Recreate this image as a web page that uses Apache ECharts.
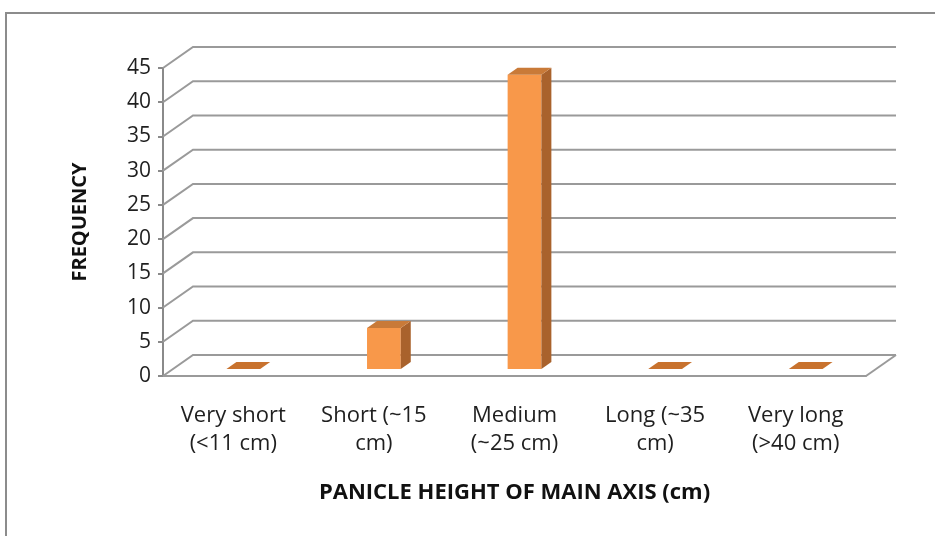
<!DOCTYPE html>
<html>
<head>
<meta charset="utf-8">
<script src="https://cdn.jsdelivr.net/npm/echarts@6/dist/echarts.min.js"></script>
<style>
html,body{margin:0;padding:0;background:#fff;}
#chart{width:935px;height:536px;}
</style>
</head>
<body>
<div id="chart"></div>
<script>
const categories = ['Very short\n(<11 cm)', 'Short (~15\ncm)', 'Medium\n(~25 cm)', 'Long (~35\ncm)', 'Very long\n(>40 cm)'];
const frequency = [0, 6, 43, 0, 0];
const yTicks = [0, 5, 10, 15, 20, 25, 30, 35, 40, 45];
const xTitle = 'PANICLE HEIGHT OF MAIN AXIS (cm)';
const yTitle = 'FREQUENCY';

const DEPTH_X = 30, DEPTH_Y = -21;
const GRID_COLOR = '#9a9a9a';
const FONT = 'Open Sans';

const chart = echarts.init(document.getElementById('chart'));

function wallItem(params, api) {
  const cs = params.coordSys;
  const v = api.value(1);
  const y = api.coord([0, v])[1];
  const x0 = cs.x, x1 = cs.x + cs.width;
  const children = [{
    type: 'polyline',
    shape: { points: [[x0, y], [x0 + DEPTH_X, y + DEPTH_Y], [x1 + DEPTH_X, y + DEPTH_Y]] },
    style: { stroke: GRID_COLOR, lineWidth: 2, fill: null }
  }];
  if (v === 0) {
    children.push({
      type: 'polyline',
      shape: { points: [[x1, y], [x1 + DEPTH_X, y + DEPTH_Y]] },
      style: { stroke: GRID_COLOR, lineWidth: 2, fill: null }
    });
  }
  return { type: 'group', children: children };
}

function barItem(params, api) {
  const idx = api.value(0);
  const v = api.value(1);
  const base = api.coord([idx, 0]);
  const top = api.coord([idx, v]);
  const band = api.size([1, 0])[0];
  const w = band * 0.24;
  const dx = DEPTH_X / 3, dy = DEPTH_Y / 3;
  const xl = base[0] - w / 2 + dx, xr = base[0] + w / 2 + dx;
  const yb = base[1] + dy, yt = top[1] + dy;
  const children = [];
  if (v > 0) {
    children.push({
      type: 'rect',
      shape: { x: xl, y: yt, width: w, height: yb - yt },
      style: { fill: '#F8984A' }
    });
    children.push({
      type: 'polygon',
      shape: { points: [[xr, yt], [xr + dx, yt + dy], [xr + dx, yb + dy], [xr, yb]] },
      style: { fill: '#A9622C' }
    });
  }
  children.push({
    type: 'polygon',
    shape: { points: [[xl, yt], [xl + dx, yt + dy], [xr + dx, yt + dy], [xr, yt]] },
    style: { fill: v > 0 ? '#C97A38' : '#C8722E' }
  });
  return { type: 'group', children: children };
}

chart.setOption({
  animation: false,
  backgroundColor: '#ffffff',
  graphic: [{
    type: 'polyline',
    shape: { points: [[6, 536], [6, 13], [935, 13]] },
    style: { stroke: '#8c8c8c', lineWidth: 2, fill: null },
    z: 0
  }],
  grid: { left: 163, right: 69, top: 68, bottom: 160 },
  xAxis: {
    type: 'category',
    data: categories,
    axisLine: { show: true, lineStyle: { color: GRID_COLOR, width: 2 } },
    axisTick: { show: false },
    axisLabel: { fontFamily: FONT, fontSize: 22, color: '#1f1f1f', lineHeight: 28, margin: 26, interval: 0 },
    name: xTitle,
    nameLocation: 'middle',
    nameGap: 106,
    nameTextStyle: { fontFamily: FONT, fontSize: 22, fontWeight: 'bold', color: '#111' }
  },
  yAxis: {
    type: 'value',
    min: 0, max: 45, interval: 5,
    axisLine: { show: true, lineStyle: { color: '#8a8a8a', width: 2 } },
    axisTick: { show: true, length: 5, lineStyle: { color: '#8a8a8a', width: 2 } },
    splitLine: { show: false },
    axisLabel: { fontFamily: FONT, fontSize: 21, color: '#1f1f1f', margin: 12 },
    name: yTitle,
    nameLocation: 'middle',
    nameRotate: 90,
    nameGap: 73,
    nameTextStyle: { fontFamily: FONT, fontSize: 20, fontWeight: 'bold', color: '#111' }
  },
  series: [{
    type: 'custom',
    renderItem: wallItem,
    data: yTicks.map(v => [0, v]),
    encode: { x: 0, y: 1 },
    z: 1,
    silent: true
  }, {
    type: 'custom',
    renderItem: barItem,
    data: frequency.map((v, i) => [i, v]),
    encode: { x: 0, y: 1 },
    z: 3
  }]
});
</script>
</body>
</html>
